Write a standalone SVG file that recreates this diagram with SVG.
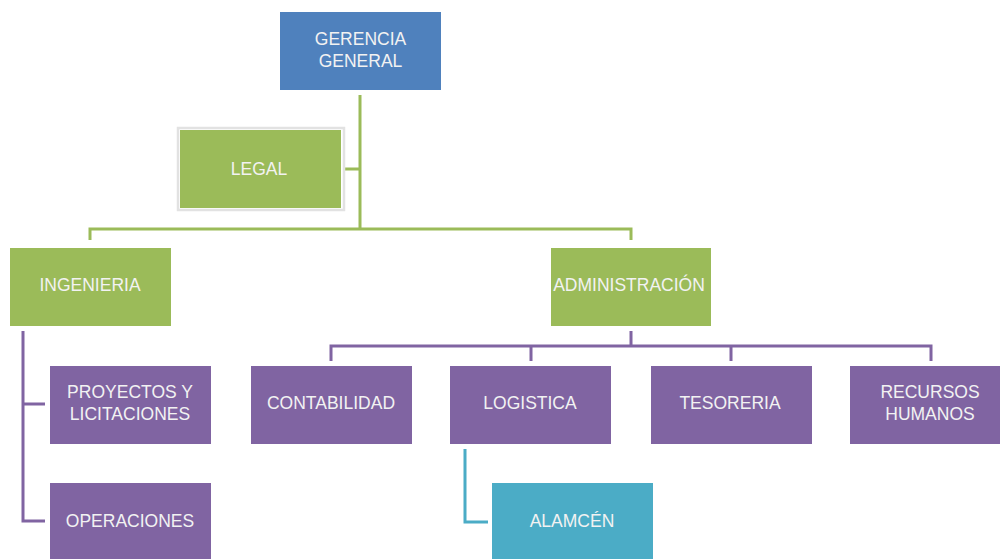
<svg xmlns="http://www.w3.org/2000/svg" width="1000" height="559" viewBox="0 0 1000 559">
<style>
text{font-family:"Liberation Sans",Arial,sans-serif;font-size:17.5px;fill:#f2f2f2;text-anchor:middle;dominant-baseline:central}
.blue{fill:#4F81BD}
.green{fill:#9BBB59}
.purple{fill:#8064A2}
.teal{fill:#4BACC6}
.cg{stroke:#9BBB59;stroke-width:3;fill:none}
.cp{stroke:#8064A2;stroke-width:3;fill:none}
.ct{stroke:#4BACC6;stroke-width:3;fill:none}
</style>
<rect width="1000" height="559" fill="#ffffff"/>
<g id="connectors">
<path class="cg" d="M360,95 V229 M345,169 H360 M90,240 V229 H631 V240"/>
<path class="cp" d="M23,331 V521 H45 M23,404 H45"/>
<path class="cp" d="M631,331 V346 M331,361 V346 H931 V361 M531,346 V361 M731,346 V361"/>
<path class="ct" d="M465,449 V522 H488"/>
</g>
<g id="gerencia">
<rect class="blue" x="280" y="12" width="161" height="78"/>
<text x="360.5" y="39">GERENCIA</text>
<text x="360.5" y="61">GENERAL</text>
</g>
<g id="legal">
<rect x="178" y="128" width="166" height="82" fill="none" stroke="#e2e2e2" stroke-width="2.5"/>
<rect class="green" x="180" y="130" width="161" height="78"/>
<text x="259" y="169">LEGAL</text>
</g>
<g id="ingenieria">
<rect class="green" x="10" y="248" width="161" height="78"/>
<text x="90" y="285">INGENIERIA</text>
</g>
<g id="administracion">
<rect class="green" x="551" y="248" width="160" height="78"/>
<text x="629" y="285">ADMINISTRACIÓN</text>
</g>
<g id="proyectos">
<rect class="purple" x="50" y="366" width="161" height="78"/>
<text x="130" y="392">PROYECTOS Y</text>
<text x="130" y="414">LICITACIONES</text>
</g>
<g id="operaciones">
<rect class="purple" x="50" y="483" width="161" height="78"/>
<text x="130" y="521">OPERACIONES</text>
</g>
<g id="contabilidad">
<rect class="purple" x="251" y="366" width="161" height="78"/>
<text x="331" y="403">CONTABILIDAD</text>
</g>
<g id="logistica">
<rect class="purple" x="450" y="366" width="161" height="78"/>
<text x="530" y="403">LOGISTICA</text>
</g>
<g id="tesoreria">
<rect class="purple" x="651" y="366" width="161" height="78"/>
<text x="730" y="403">TESORERIA</text>
</g>
<g id="recursos">
<rect class="purple" x="850" y="366" width="161" height="78"/>
<text x="930" y="392">RECURSOS</text>
<text x="930" y="414">HUMANOS</text>
</g>
<g id="almacen">
<rect class="teal" x="492" y="483" width="161" height="78"/>
<text x="572" y="521">ALAMCÉN</text>
</g>
</svg>
